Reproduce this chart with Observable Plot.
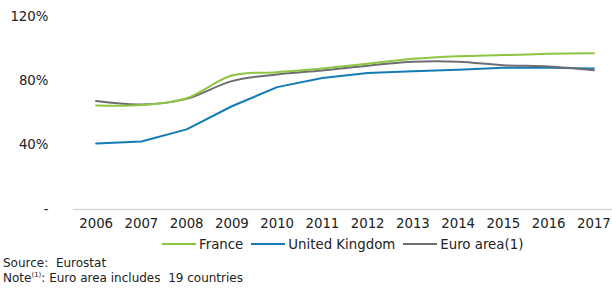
<!DOCTYPE html>
<html>
<head>
<meta charset="utf-8">
<script src="https://cdn.jsdelivr.net/npm/d3@7"></script>
<script src="https://cdn.jsdelivr.net/npm/@observablehq/plot@0.6"></script>
<style>
  body { margin: 0; background: #fff; font-family: "DejaVu Sans", Verdana, sans-serif; }
  #wrap { position: relative; width: 612px; height: 288px; overflow: hidden; }
  #chart { position: absolute; left: 0; top: 0; }
  .legend { position: absolute; top: 236px; left: 162px; height: 16px; display: flex; align-items: center; font-size: 13.33px; color: #222; white-space: nowrap; }
  .legend .item { display: flex; align-items: center; margin-right: 8px; }
  .legend .sw { width: 34px; height: 2px; margin-right: 3px; }
  .note { position: absolute; left: 3px; font-size: 12px; color: #222; white-space: pre; }
  .note sup { font-size: 7px; vertical-align: 5px; }
</style>
</head>
<body>
<div id="wrap">
  <div id="chart"></div>
  <div class="legend" id="legend"></div>
  <div class="note" style="top:256px">Source:  Eurostat</div>
  <div class="note" style="top:271px">Note<sup>(1)</sup>: Euro area includes  19 countries</div>
</div>
<script>
const years = [2006, 2007, 2008, 2009, 2010, 2011, 2012, 2013, 2014, 2015, 2016, 2017];
const france = [64.7, 64.9, 69.2, 83.3, 85.4, 87.7, 90.6, 93.7, 95.3, 96.0, 96.8, 97.2];
const uk     = [41.0, 42.3, 49.8, 64.2, 76.1, 81.7, 84.8, 86.0, 86.9, 88.1, 88.1, 87.7];
const euro   = [67.4, 65.3, 68.8, 79.8, 84.0, 86.4, 89.4, 91.9, 91.9, 89.7, 88.9, 86.6];
const seriesNames = ["France", "United Kingdom", "Euro area(1)"];
const seriesColors = ["#8DC63F", "#137CB6", "#6D6E71"];
const yTicks = [0, 40, 80, 120];

const toRows = (vals, name) => years.map((y, i) => ({year: y, value: vals[i], series: name}));
const frRows = toRows(france, seriesNames[0]);
const ukRows = toRows(uk, seriesNames[1]);
const euRows = toRows(euro, seriesNames[2]);

const xMin = years[0] - 0.5, xMax = years[years.length - 1] + 0.5;

const chart = Plot.plot({
  width: 612,
  height: 232,
  marginLeft: 73,
  marginRight: 0,
  marginTop: 16,
  marginBottom: 23,
  style: {fontFamily: "DejaVu Sans, Verdana, sans-serif", fontSize: "13.33px", color: "#222", background: "#fff"},
  x: {type: "linear", domain: [xMin, xMax], range: [73, 616]},
  y: {domain: [0, 120]},
  marks: [
    Plot.ruleY([0], {x1: xMin, x2: xMax, stroke: "#d9d9d9", strokeWidth: 1.5}),
    Plot.axisX({ticks: years, tickFormat: d => String(d), tickSize: 0, tickPadding: 9, label: null, fontSize: 13.33}),
    Plot.axisY({ticks: yTicks, tickSize: 0, tickPadding: 25, label: null, fontSize: 13.33,
      tickFormat: d => d === 0 ? "-" : d + "%"}),
    Plot.line(ukRows, {x: "year", y: "value", stroke: seriesColors[1], strokeWidth: 2}),
    Plot.line(euRows, {x: "year", y: "value", stroke: seriesColors[2], strokeWidth: 2, curve: "catmull-rom"}),
    Plot.line(frRows, {x: "year", y: "value", stroke: seriesColors[0], strokeWidth: 2, curve: "catmull-rom"})
  ]
});
document.getElementById("chart").appendChild(chart);

const legend = document.getElementById("legend");
seriesNames.forEach((n, i) => {
  const item = document.createElement("div");
  item.className = "item";
  const sw = document.createElement("div");
  sw.className = "sw";
  sw.style.background = seriesColors[i];
  const t = document.createElement("span");
  t.textContent = n;
  item.appendChild(sw);
  item.appendChild(t);
  legend.appendChild(item);
});
</script>
</body>
</html>
